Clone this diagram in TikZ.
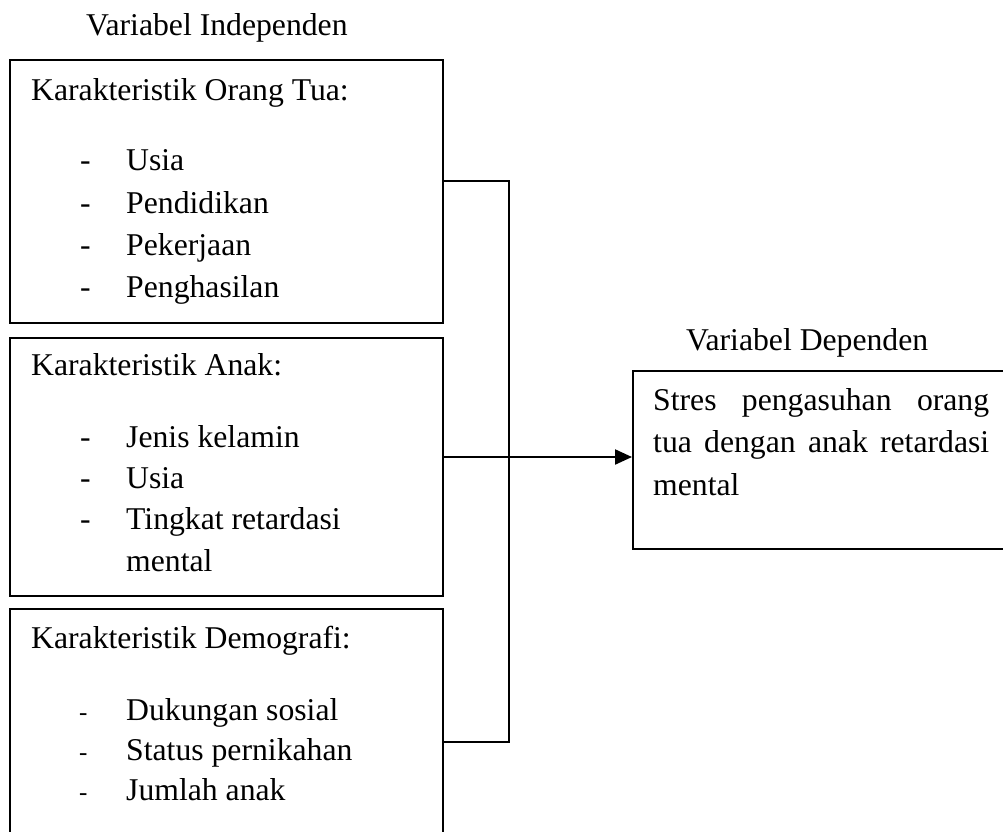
\documentclass[tikz,border=0pt]{standalone}
\usepackage{fontspec}
\setmainfont{Liberation Serif}
\usetikzlibrary{arrows.meta}
\begin{document}
\begin{tikzpicture}[x=1pt,y=-1pt,
  box/.style={draw, line width=1.6pt, inner sep=0pt, anchor=north west},
  txt/.style={anchor=base west, inner sep=0pt, font=\fontsize{31.7}{42}\selectfont},
  dashtxt/.style={anchor=base west, inner sep=0pt, font=\fontsize{31.7}{42}\selectfont},
  smalldash/.style={anchor=base west, inner sep=0pt, font=\fontsize{25}{30}\selectfont},
  link/.style={line width=1.4pt},
  arrowlink/.style={line width=2.2pt, -{Triangle[length=17pt,width=15pt]}}]
\useasboundingbox (0,0) rectangle (1003,831);
\clip (0,0) rectangle (1003,831);
\fill[white] (0,0) rectangle (1003,831);

% titles
\node[txt] (tI) at (86,35) {Variabel Independen};
\node[txt] (tD) at (686,350) {Variabel Dependen};

% boxes
\node[box, minimum width=433pt, minimum height=263pt] (b1) at (9,59) {};
\node[box, minimum width=433pt, minimum height=258pt] (b2) at (9,337) {};
\node[box, minimum width=433pt, minimum height=260pt] (b3) at (9,608) {};
\node[box, minimum width=400pt, minimum height=178pt] (r) at (632,370) {};

% box 1 text
\node[txt] (h1) at (31,100) {Karakteristik Orang Tua:};
\node[dashtxt] (d11) at (80,170) {-}; \node[txt] (i11) at (126,170) {Usia};
\node[dashtxt] (d12) at (80,213) {-}; \node[txt] (i12) at (126,213) {Pendidikan};
\node[dashtxt] (d13) at (80,255) {-}; \node[txt] (i13) at (126,255) {Pekerjaan};
\node[dashtxt] (d14) at (80,297) {-}; \node[txt] (i14) at (126,297) {Penghasilan};

% box 2 text
\node[txt] (h2) at (31,375) {Karakteristik Anak:};
\node[dashtxt] (d21) at (80,447) {-}; \node[txt] (i21) at (126,447) {Jenis kelamin};
\node[dashtxt] (d22) at (80,488) {-}; \node[txt] (i22) at (126,488) {Usia};
\node[dashtxt] (d23) at (80,529) {-}; \node[txt] (i23) at (126,529) {Tingkat retardasi};
\node[txt] (i24) at (126,571) {mental};

% box 3 text
\node[txt] (h3) at (31,648) {Karakteristik Demografi:};
\node[smalldash] (d31) at (79,720) {-}; \node[txt] (i31) at (126,720) {Dukungan sosial};
\node[smalldash] (d32) at (79,760) {-}; \node[txt] (i32) at (126,760) {Status pernikahan};
\node[smalldash] (d33) at (79,800) {-}; \node[txt] (i33) at (126,800) {Jumlah anak};

% right box text
\node[txt] (r1) at (653,410) {\makebox[336pt][s]{Stres pengasuhan orang}};
\node[txt] (r2) at (653,452) {\makebox[336pt][s]{tua dengan anak retardasi}};
\node[txt] (r3) at (653,495) {mental};

% connectors
\coordinate (c1) at (442,181);
\coordinate (s1) at (509,181);
\coordinate (s3) at (509,742);
\coordinate (c3) at (442,742);
\coordinate (s2) at (509,457);
\coordinate (c2) at (442,457);
\coordinate (e2) at (632,457);
\draw[link] (c1) -- (s1) -- (s3) -- (c3);
\draw[link] (c2) -- (s2);
\draw[arrowlink] (s2) -- (e2);
\end{tikzpicture}
\end{document}
